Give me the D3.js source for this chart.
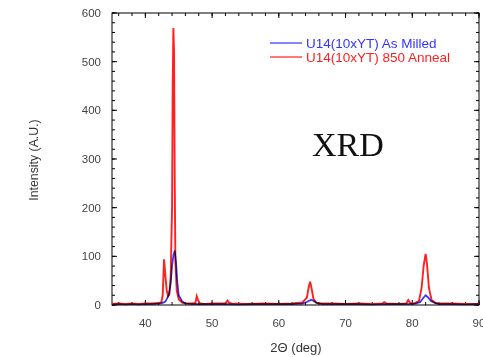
<!DOCTYPE html>
<html><head><meta charset="utf-8">
<script src="https://cdn.jsdelivr.net/npm/d3@7/dist/d3.min.js"></script>
<style>
html,body{margin:0;padding:0;background:#fff;}
svg{display:block;font-family:"Liberation Sans",Arial,sans-serif;}
</style></head>
<body><svg id="c" width="483" height="357"></svg>
<script>
// Data
const xTicks = [40, 50, 60, 70, 80, 90];
const yTicks = [0, 100, 200, 300, 400, 500, 600];
const seriesNames = ["U14(10xYT) As Milled", "U14(10xYT) 850 Anneal"];
const seriesColors = ["#3333ff", "#ff2020"];

const milledX = [35,36,37,38,39,40,41,42,42.5,43,43.5,43.8,44.0,44.2,44.4,44.6,44.8,45.0,45.5,46,47,48,50,52,54,56,58,60,62,63.5,64.2,64.6,64.9,65.2,65.7,66.5,68,70,72,74,76,78,79.5,80.5,81.2,81.6,82.0,82.4,82.8,83.4,84,86,88,90];
const milledY = [1,2,1,2,1,2,2,3,4,7,20,45,80,102,112,88,45,20,8,3,2,2,2,2,1,2,2,2,2,3,6,9,11,8,4,2,2,2,2,1,2,2,2,3,6,14,20,15,8,4,2,2,1,2];

const annealX = [35,36,37,38,39,40,41,42,42.4,42.6,42.8,43.0,43.2,43.4,43.6,43.8,44.0,44.1,44.2,44.3,44.4,44.5,44.7,45.0,45.5,46,47,47.5,47.7,47.9,48.2,49,50,51,52,52.3,52.6,53,55,58,60,62,63.5,64.2,64.5,64.7,64.9,65.2,65.6,66.2,68,70,72,74,75.5,75.8,76.1,78,79.1,79.4,79.7,80.2,81,81.4,81.7,82.0,82.2,82.5,82.9,83.5,84,86,88,90];
const annealY = [2,3,2,3,2,3,3,4,6,20,94,60,30,18,22,60,200,450,569,520,260,90,30,12,5,3,3,4,18,10,3,2,3,3,3,9,4,3,2,3,2,3,5,15,38,48,35,12,5,3,3,2,3,2,3,6,3,2,3,10,4,3,8,35,80,105,85,35,10,4,3,3,2,2];

const m = {l: 112, r: 479, t: 13, b: 305};
const svg = d3.select("#c");

const x = d3.scaleLinear().domain([35, 90]).range([m.l, m.r]);
const y = d3.scaleLinear().domain([0, 600]).range([m.b, m.t]);

// frame
svg.append("rect").attr("x", m.l).attr("y", m.t).attr("width", m.r - m.l).attr("height", m.b - m.t)
  .attr("fill", "none").attr("stroke", "#000").attr("stroke-width", 1);

const xMinor = d3.range(36, 90.01, 2);
const yMinor = d3.range(0, 600.01, 20);

function ticksX(vals, len) {
  svg.append("g").selectAll("line").data(vals).join("line")
    .attr("x1", d => x(d)).attr("x2", d => x(d)).attr("y1", m.b).attr("y2", m.b - len)
    .attr("stroke", "#000");
  svg.append("g").selectAll("line").data(vals).join("line")
    .attr("x1", d => x(d)).attr("x2", d => x(d)).attr("y1", m.t).attr("y2", m.t + len)
    .attr("stroke", "#000");
}
function ticksY(vals, len) {
  svg.append("g").selectAll("line").data(vals).join("line")
    .attr("x1", m.l).attr("x2", m.l + len).attr("y1", d => y(d)).attr("y2", d => y(d))
    .attr("stroke", "#000");
  svg.append("g").selectAll("line").data(vals).join("line")
    .attr("x1", m.r).attr("x2", m.r - len).attr("y1", d => y(d)).attr("y2", d => y(d))
    .attr("stroke", "#000");
}
ticksX(xMinor, 3); ticksX(xTicks, 5);
ticksY(yMinor, 3); ticksY(yTicks, 5);

// tick labels
svg.append("g").selectAll("text").data(xTicks).join("text")
  .attr("x", d => x(d)).attr("y", 327).attr("text-anchor", "middle")
  .attr("font-size", 11.5).attr("fill", "#444").text(d => d);
svg.append("g").selectAll("text").data(yTicks).join("text")
  .attr("x", 101).attr("y", d => y(d) + 4).attr("text-anchor", "end")
  .attr("font-size", 11.5).attr("fill", "#444").text(d => d);

// axis titles
svg.append("text").attr("x", 296).attr("y", 352).attr("text-anchor", "middle")
  .attr("font-size", 13).attr("fill", "#333").text("2Θ (deg)");
svg.append("text").attr("transform", "translate(38,160) rotate(-90)").attr("text-anchor", "middle")
  .attr("font-size", 12.3).attr("fill", "#333").text("Intensity (A.U.)");

// lines
svg.append("clipPath").attr("id", "pc").append("rect")
  .attr("x", m.l).attr("y", m.t).attr("width", m.r - m.l).attr("height", m.b - m.t + 1);
const line = d3.line().x(d => x(d[0])).y(d => y(d[1]));
svg.append("path").datum(d3.zip(annealX, annealY)).attr("d", line)
  .attr("fill", "none").attr("stroke", seriesColors[1]).attr("stroke-width", 1.9)
  .attr("clip-path", "url(#pc)");
svg.append("path").datum(d3.zip(milledX, milledY)).attr("d", line)
  .attr("fill", "none").attr("stroke", seriesColors[0]).attr("stroke-width", 1.7)
  .style("mix-blend-mode", "multiply").attr("clip-path", "url(#pc)");

// legend
const lg = svg.append("g");
seriesNames.forEach((n, i) => {
  const yy = 43 + i * 14;
  lg.append("line").attr("x1", 270).attr("x2", 302).attr("y1", yy).attr("y2", yy)
    .attr("stroke", seriesColors[i]).attr("stroke-width", 1.2);
  lg.append("text").attr("x", 306).attr("y", yy + 4.5).attr("font-size", 13.5)
    .attr("fill", seriesColors[i]).text(n);
});

// annotation
svg.append("text").attr("x", 312).attr("y", 156).attr("font-family", "'Liberation Serif','Times New Roman',serif")
  .attr("font-size", 34).attr("fill", "#111").text("XRD");
</script></body></html>
